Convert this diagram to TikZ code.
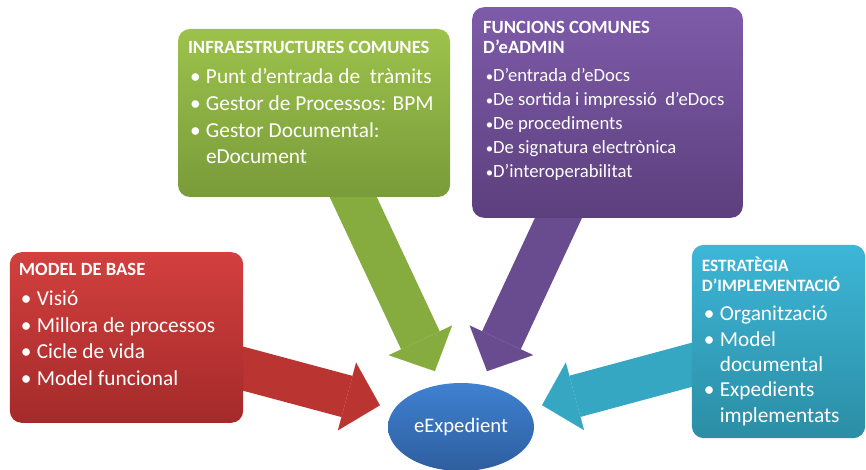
\documentclass[tikz,border=0pt]{standalone}
\usepackage{fontspec}
\setmainfont{Carlito}
\usetikzlibrary{arrows.meta,backgrounds,calc,shapes.geometric}

\definecolor{grntop}{HTML}{9DC24B}
\definecolor{grnbot}{HTML}{799B3A}
\definecolor{grnarr}{HTML}{86AB3F}
\definecolor{purtop}{HTML}{7E5BA9}
\definecolor{purbot}{HTML}{5C3F7D}
\definecolor{purarr}{HTML}{694B90}
\definecolor{redtop}{HTML}{D2403E}
\definecolor{redbot}{HTML}{A42A2A}
\definecolor{redarr}{HTML}{BA3431}
\definecolor{cyntop}{HTML}{3DB6D7}
\definecolor{cynbot}{HTML}{2B8EA5}
\definecolor{cynarr}{HTML}{35A7C3}
\definecolor{blutop}{HTML}{3F81D1}
\definecolor{blubot}{HTML}{2E5E9E}

\newcommand{\hd}[1]{{\fontsize{14}{15}\selectfont\bfseries #1}}
\newcommand{\hdsm}[1]{{\fontsize{13}{15}\selectfont\bfseries #1}}
\newcommand{\bul}{\makebox[13.5pt][l]{\hspace{1.5pt}\textbullet}}
\newcommand{\pbul}{\makebox[7.5pt][l]{\hspace{2pt}{\fontsize{11}{11}\selectfont\textbullet}}}
\newcommand{\ind}{\hspace*{13.5pt}}

\begin{document}
\begin{tikzpicture}[x=0.75pt,y=-0.75pt,
   box/.style={rounded corners=9pt,draw=none},
   txt/.style={text=white,align=left,inner sep=0pt,anchor=north west,
      font=\fontsize{16}{20}\selectfont},
   arr/.style={line width=32pt,shorten >=11pt,shorten <=-12pt,
      -{Triangle[length=25.5pt,width=52.5pt,line width=0.01pt]}}]
   \useasboundingbox (0,0) rectangle (866,470);
   \node[box,top color=grntop,bottom color=grnbot,minimum width=204pt,minimum height=126pt] (infra) at (314,113) {};
   \node[box,top color=purtop,bottom color=purbot,minimum width=203pt,minimum height=158pt] (func) at (607.5,112.5) {};
   \node[box,top color=redtop,bottom color=redbot,minimum width=175pt,minimum height=128pt] (model) at (126.5,337.5) {};
   \node[box,top color=cyntop,bottom color=cynbot,minimum width=130pt,minimum height=145pt] (estr) at (778.5,341.5) {};
   \node[ellipse,top color=blutop,bottom color=blubot,minimum width=109.5pt,minimum height=66pt,
      text=white,font=\fontsize{15.5}{18}\selectfont] (exp) at (461,427) {eExpedient};
   \node[txt] (infratxt) at ($(infra.north west)+(10,12)$) {\hd{INFRAESTRUCTURES COMUNES}\\[3pt]
      \bul Punt d’entrada de~ tràmits\\
      \bul Gestor de Processos: BPM\\
      \bul Gestor Documental:\\
      \ind eDocument};
   \node[txt,font=\fontsize{14}{18}\selectfont] (functxt) at ($(func.north west)+(11,14)$) {\hd{FUNCIONS COMUNES}\\[-3pt]
      \hd{D’eADMIN}\\[3pt]
      \pbul D’entrada d’eDocs\\
      \pbul De sortida i impressió~ d’eDocs\\
      \pbul De procediments\\
      \pbul De signatura electrònica\\
      \pbul D’interoperabilitat};
   \node[txt] (modeltxt) at ($(model.north west)+(9,11)$) {\hd{MODEL DE BASE}\\[2.5pt]
      \bul Visió\\
      \bul Millora de processos\\
      \bul Cicle de vida\\
      \bul Model funcional};
   \node[txt,font=\fontsize{16}{19}\selectfont] (estrtxt) at ($(estr.north west)+(10,12)$) {\hdsm{ESTRATÈGIA}\\[-4pt]
      \hdsm{D’IMPLEMENTACIÓ}\\[3pt]
      \bul Organització\\
      \bul Model\\
      \ind documental\\
      \bul Expedients\\
      \ind implementats};
   \begin{scope}[on background layer]
   \draw[arr,grnarr] (infra) -- (exp);
   \draw[arr,purarr] (func) -- (exp);
   \draw[arr,redarr] (model) -- (exp);
   \draw[arr,cynarr] (estr) -- (exp);
   \end{scope}
\end{tikzpicture}
\end{document}
